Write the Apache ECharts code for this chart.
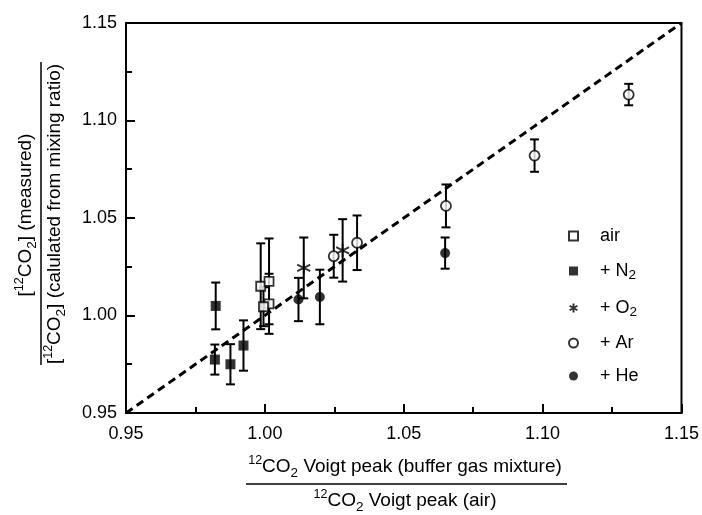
<!DOCTYPE html>
<html>
<head>
<meta charset="utf-8">
<script src="https://cdn.jsdelivr.net/npm/echarts@6/dist/echarts.min.js"></script>
<style>
  html, body { margin: 0; background: #fff; }
  #chart { width: 702px; height: 515px; }
</style>
</head>
<body>
<div id="chart"></div>
<script>
// values (x, y, +/- error)
const airX = [0.9985, 1.0015, 1.0015, 0.9995]
const airY = [1.0150, 1.0175, 1.0060, 1.0045]
const airErr = [0.022, 0.022, 0.0154, 0.010]

const n2X = [0.9823, 0.9820, 0.9876, 0.9923]
const n2Y = [1.0049, 0.9774, 0.9750, 0.9846]
const n2Err = [0.012, 0.0077, 0.0103, 0.0129]

const o2X = [1.0140, 1.0280]
const o2Y = [1.0244, 1.0334]
const o2Err = [0.0156, 0.016]

const arX = [1.0248, 1.0332, 1.0652, 1.0971, 1.1310]
const arY = [1.0304, 1.0373, 1.0562, 1.0820, 1.1133]
const arErr = [0.011, 0.014, 0.011, 0.0083, 0.0055]

const heX = [1.0121, 1.0198, 1.0649]
const heY = [1.0082, 1.0095, 1.0320]
const heErr = [0.0111, 0.014, 0.008]

// 1:1 reference line and axis range
const unityLine = [[0.95, 0.95], [1.15, 1.15]]
const axisMin = 0.95
const axisMax = 1.15
const axisStep = 0.05

const legendNames = ['air', '+ N2', '+ O2', '+ Ar', '+ He']

const FONT = 'Liberation Sans, Arial, sans-serif'

function points(xs, ys) {
  return xs.map((x, i) => [x, ys[i]])
}
function bars(xs, ys, es) {
  return xs.map((x, i) => [x, ys[i] - es[i], ys[i] + es[i]])
}

const errorData = [].concat(
  bars(airX, airY, airErr),
  bars(n2X, n2Y, n2Err),
  bars(o2X, o2Y, o2Err),
  bars(arX, arY, arErr),
  bars(heX, heY, heErr)
)

// asterisk: vertical stroke plus an X
const asterisk = 'path://M0,-10L0,10M-8.66,-5L8.66,5M-8.66,5L8.66,-5'

const richText = {
  n: { fontSize: 19, lineHeight: 24, fontFamily: FONT, color: '#000' },
  sup: { fontSize: 12.5, lineHeight: 12, padding: [0, 0, 12, 0], fontFamily: FONT, color: '#000' },
  sub: { fontSize: 13.5, lineHeight: 12, padding: [12, 0, 0, 0], fontFamily: FONT, color: '#000' }
}

function axisCommon() {
  return {
    type: 'value',
    min: axisMin,
    max: axisMax,
    interval: axisStep,
    axisLine: { show: true, onZero: false, lineStyle: { color: '#000', width: 2 } },
    axisTick: { show: true, inside: true, length: 9, lineStyle: { color: '#000', width: 2 } },
    minorTick: { show: true, splitNumber: 2, length: 6, lineStyle: { color: '#000', width: 2 } },
    splitLine: { show: false },
    axisLabel: {
      color: '#000',
      fontSize: 18,
      fontFamily: FONT,
      formatter: v => v.toFixed(2)
    }
  }
}

const chart = echarts.init(document.getElementById('chart'))

chart.setOption({
  animation: false,
  backgroundColor: '#fff',
  grid: {
    left: 126,
    right: 19,
    top: 23,
    bottom: 102,
    show: true,
    borderColor: '#000',
    borderWidth: 2
  },
  xAxis: Object.assign(axisCommon(), {
    axisLabel: Object.assign(axisCommon().axisLabel, { margin: 12 })
  }),
  yAxis: Object.assign(axisCommon(), {
    axisLabel: Object.assign(axisCommon().axisLabel, { margin: 9 })
  }),
  legend: {
    data: legendNames,
    orient: 'vertical',
    left: 563,
    top: 222,
    itemWidth: 9,
    itemHeight: 9,
    itemGap: 15,
    selectedMode: false,
    textStyle: {
      color: '#000',
      fontSize: 18,
      fontFamily: FONT,
      padding: [0, 0, 0, 17],
      rich: {
        n: { fontSize: 18, lineHeight: 20, fontFamily: FONT, color: '#000' },
        sub: { fontSize: 13.5, lineHeight: 12, padding: [8, 0, 0, 0], fontFamily: FONT, color: '#000' }
      }
    },
    formatter: name => {
      const m = name.match(/^(.*\D)(\d)$/)
      return m ? '{n|' + m[1] + '}{sub|' + m[2] + '}' : '{n|' + name + '}'
    }
  },
  series: [
    {
      type: 'line',
      data: unityLine,
      showSymbol: false,
      silent: true,
      z: 1,
      lineStyle: { color: '#000', width: 3, type: [8, 5] }
    },
    {
      type: 'custom',
      data: errorData,
      silent: true,
      z: 2,
      encode: { x: 0, y: [1, 2] },
      renderItem(params, api) {
        const top = api.coord([api.value(0), api.value(2)])
        const bot = api.coord([api.value(0), api.value(1)])
        const c = 4.5
        const style = { stroke: '#000', lineWidth: 2 }
        return {
          type: 'group',
          children: [
            { type: 'line', shape: { x1: top[0], y1: top[1], x2: bot[0], y2: bot[1] }, style },
            { type: 'line', shape: { x1: top[0] - c, y1: top[1], x2: top[0] + c, y2: top[1] }, style },
            { type: 'line', shape: { x1: bot[0] - c, y1: bot[1], x2: bot[0] + c, y2: bot[1] }, style }
          ]
        }
      }
    },
    {
      name: 'air',
      type: 'scatter',
      z: 3,
      symbol: 'rect',
      symbolSize: 9,
      data: points(airX, airY),
      itemStyle: { color: '#fff', borderColor: '#000', borderWidth: 1.8 }
    },
    {
      name: '+ N2',
      type: 'scatter',
      z: 3,
      symbol: 'rect',
      symbolSize: 10,
      data: points(n2X, n2Y),
      itemStyle: { color: '#000', borderColor: '#000', borderWidth: 0 }
    },
    {
      name: '+ O2',
      type: 'scatter',
      z: 3,
      symbol: asterisk,
      symbolSize: 13,
      data: points(o2X, o2Y),
      itemStyle: { color: 'rgba(0,0,0,0)', borderColor: '#000', borderWidth: 1.8 }
    },
    {
      name: '+ Ar',
      type: 'scatter',
      z: 3,
      symbol: 'circle',
      symbolSize: 10,
      data: points(arX, arY),
      itemStyle: { color: '#fff', borderColor: '#000', borderWidth: 1.8 }
    },
    {
      name: '+ He',
      type: 'scatter',
      z: 3,
      symbol: 'circle',
      symbolSize: 10,
      data: points(heX, heY),
      itemStyle: { color: '#000', borderColor: '#000', borderWidth: 0 }
    }
  ],
  graphic: [
    {
      type: 'text',
      x: 405,
      y: 467,
      style: {
        text: '{sup|12}{n|CO}{sub|2}{n| Voigt peak (buffer gas mixture)}',
        rich: richText,
        align: 'center',
        verticalAlign: 'middle'
      }
    },
    {
      type: 'line',
      shape: { x1: 246, y1: 484, x2: 567, y2: 484 },
      style: { stroke: '#000', lineWidth: 1.5 }
    },
    {
      type: 'text',
      x: 405,
      y: 501,
      style: {
        text: '{sup|12}{n|CO}{sub|2}{n| Voigt peak (air)}',
        rich: richText,
        align: 'center',
        verticalAlign: 'middle'
      }
    },
    {
      type: 'text',
      x: 26,
      y: 215,
      rotation: Math.PI / 2,
      style: {
        text: '{n|[}{sup|12}{n|CO}{sub|2}{n|] (measured)}',
        rich: richText,
        align: 'center',
        verticalAlign: 'middle'
      }
    },
    {
      type: 'line',
      shape: { x1: 41, y1: 62, x2: 41, y2: 365 },
      style: { stroke: '#000', lineWidth: 1.5 }
    },
    {
      type: 'text',
      x: 55,
      y: 214,
      rotation: Math.PI / 2,
      style: {
        text: '{n|[}{sup|12}{n|CO}{sub|2}{n|] (calulated from mixing ratio)}',
        rich: richText,
        align: 'center',
        verticalAlign: 'middle'
      }
    }
  ]
})
</script>
</body>
</html>
